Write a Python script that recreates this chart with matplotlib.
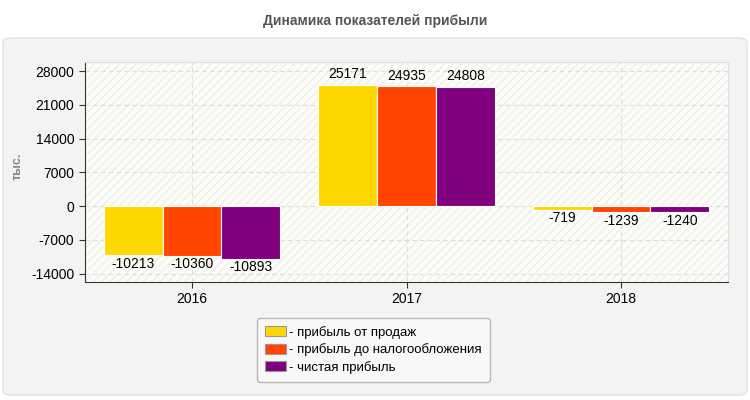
import numpy as np
import matplotlib.pyplot as plt
from matplotlib.patches import FancyBboxPatch

years = ['2016', '2017', '2018']
series_names = ['- прибыль от продаж', '- прибыль до налогообложения', '- чистая прибыль']
sales_profit = [-10213, 25171, -719]
pretax_profit = [-10360, 24935, -1239]
net_profit = [-10893, 24808, -1240]
colors = ['#FFD700', '#FF4500', '#800080']
yticks = [-14000, -7000, 0, 7000, 14000, 21000, 28000]

plt.rcParams['font.family'] = ['Liberation Sans', 'DejaVu Sans']
plt.rcParams['axes.unicode_minus'] = False

fig = plt.figure(figsize=(7.5, 4), dpi=100)
fig.patch.set_facecolor('white')

# grey rounded panel behind the chart
panel = FancyBboxPatch((0.004, 0.012), 0.992, 0.893, boxstyle='round,pad=0,rounding_size=0.012',
                       transform=fig.transFigure, facecolor='#F3F3F3', edgecolor='#E2E2E2',
                       lw=1, zorder=-10)
fig.patches.append(panel)

fig.text(0.5, 0.948, 'Динамика показателей прибыли', ha='center', va='center',
         fontsize=10, fontweight='bold', color='#555555')
fig.text(0.024, 0.585, 'тыс.', rotation=90, ha='center', va='center',
         fontsize=9, color='#888888', fontweight='bold')

ax = fig.add_axes([0.113, 0.295, 0.858, 0.55])
ax.set_zorder(5)
ax.set_facecolor('#FCFCF8')
ax.add_patch(plt.Rectangle((0, 0), 1, 1, transform=ax.transAxes, facecolor='none',
                           edgecolor='#EFEFEA', hatch='////', lw=0, zorder=0))

x = np.arange(len(years))
w = 0.275
data = [sales_profit, pretax_profit, net_profit]
for i, (vals, c, name) in enumerate(zip(data, colors, series_names)):
    pos = x + (i - 1) * w
    ax.bar(pos, vals, width=w, color=c, edgecolor='white', lw=0.8, label=name, zorder=3)
    for px, v in zip(pos, vals):
        if v >= 0:
            ax.text(px, v + 700, str(v), ha='center', va='bottom', fontsize=10, zorder=4)
        else:
            ax.text(px, v - 300, str(v), ha='center', va='top', fontsize=10, zorder=4)

ax.set_xlim(-0.5, 2.5)
ax.set_ylim(-15750, 29900)
ax.set_xticks(x)
ax.set_xticklabels(years)
ax.set_yticks(yticks)
ax.tick_params(labelsize=10, length=4, color='#333333')
ax.grid(True, ls=(0, (4, 3)), color='#DDDDDD', lw=0.8, zorder=1)
for s in ['left', 'bottom']:
    ax.spines[s].set_color('#333333')
for s in ['top', 'right']:
    ax.spines[s].set_color('#E0E0E0')

leg = fig.legend(loc='center', bbox_to_anchor=(0.498, 0.125), fontsize=9.5, frameon=True,
                 handlelength=1.6, handleheight=0.8, handletextpad=0.2, labelspacing=0.35,
                 borderpad=0.6, fancybox=True)
leg.set_zorder(6)
leg.get_frame().set_edgecolor('#AAAAAA')
leg.get_frame().set_facecolor('#FAFAFA')
for h in leg.legend_handles:
    h.set_edgecolor('#999999')

fig.savefig('out.png', dpi=100, facecolor=fig.get_facecolor())
